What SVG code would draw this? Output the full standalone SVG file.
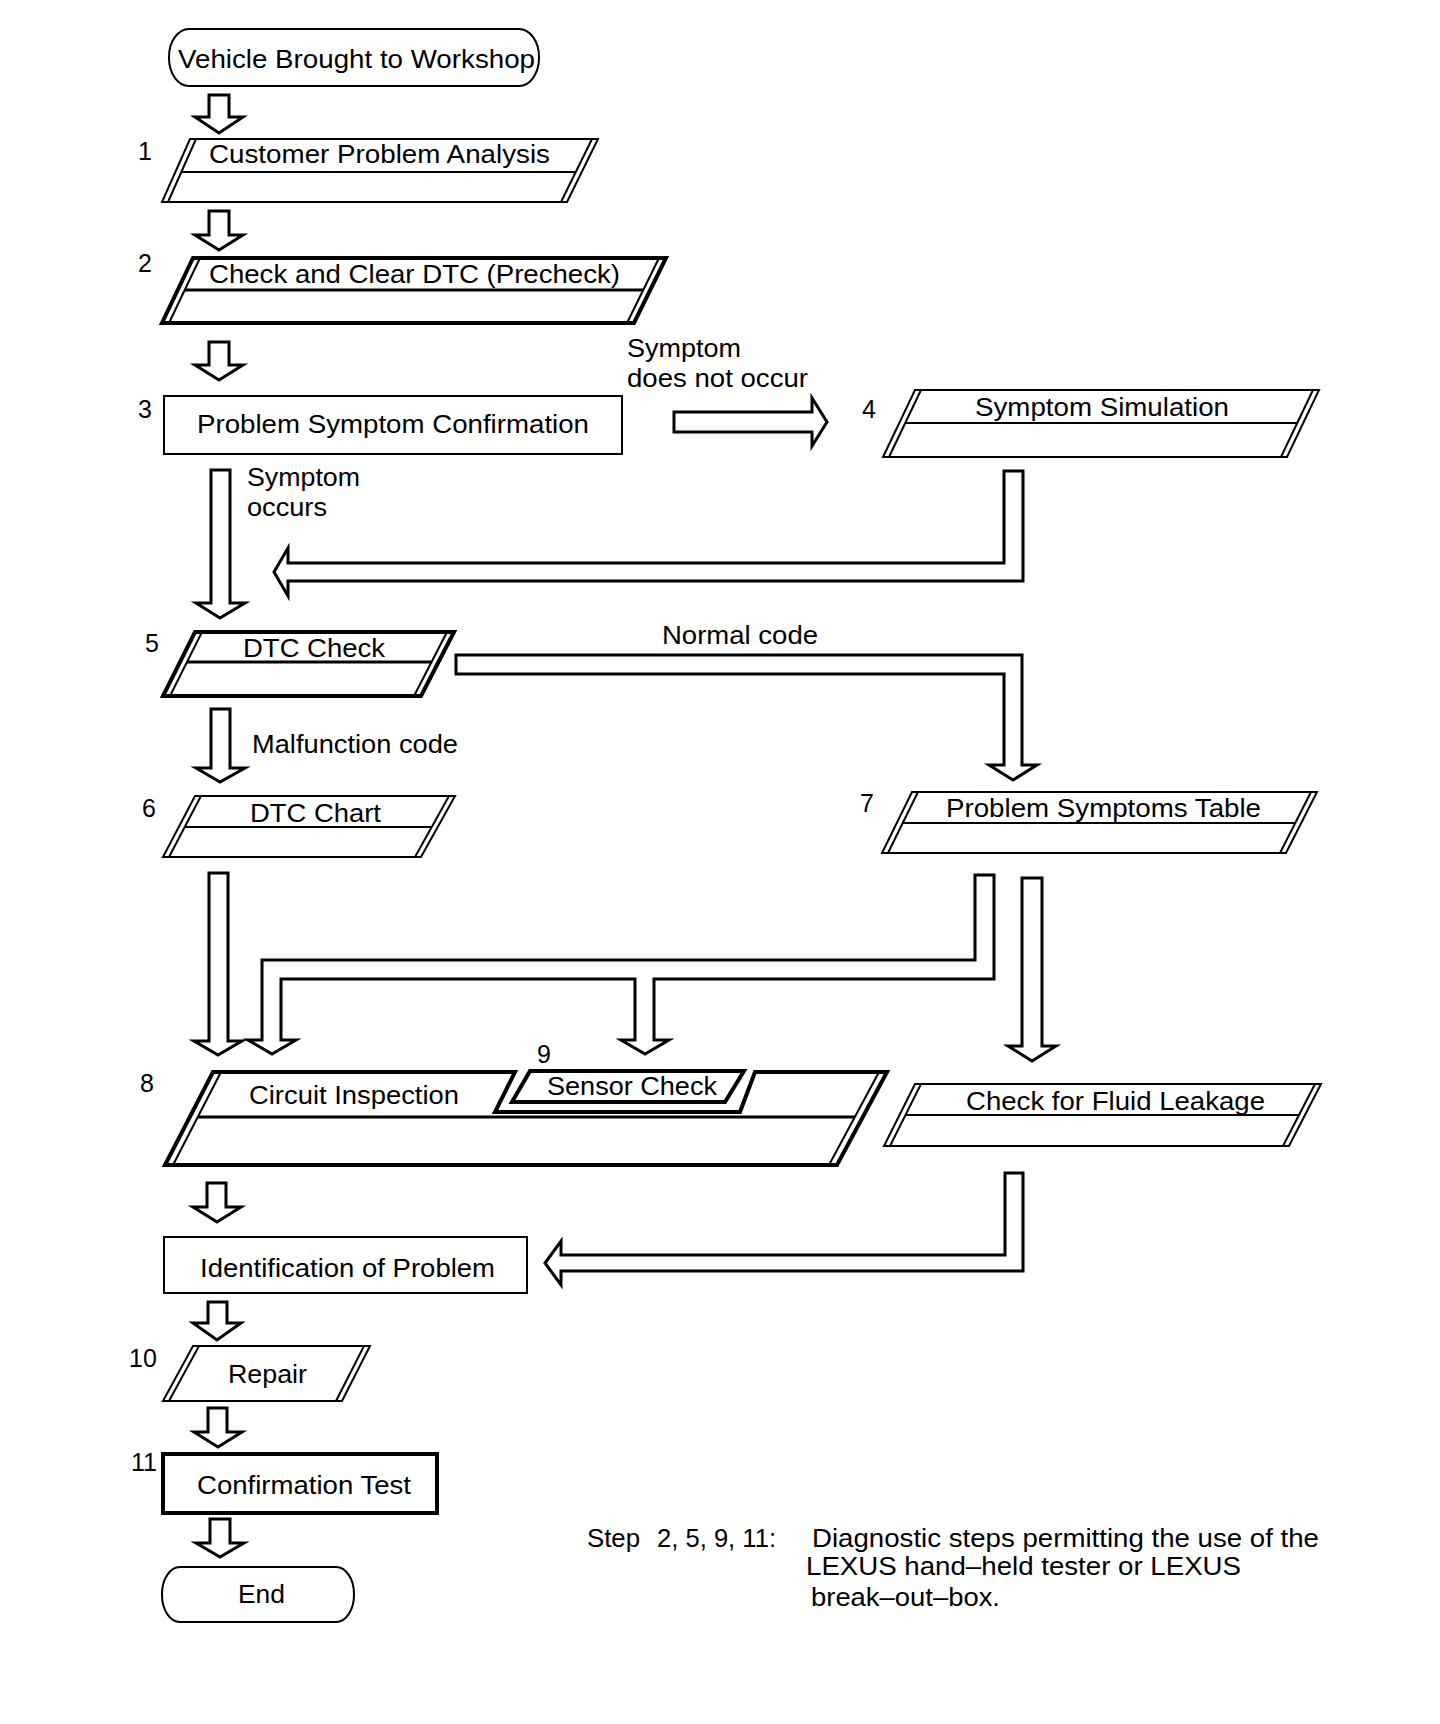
<svg xmlns="http://www.w3.org/2000/svg" width="1440" height="1724" viewBox="0 0 1440 1724">
<style>
.bg{fill:#fff}
.thin{fill:#fff;stroke:#000;stroke-width:2;stroke-linejoin:miter}
.thick{fill:#fff;stroke:#000;stroke-width:4;stroke-linejoin:miter}
.ln{fill:none;stroke:#000;stroke-width:2}
.lnb{fill:none;stroke:#000;stroke-width:3}
.arr{fill:#fff;stroke:#000;stroke-width:3;stroke-linejoin:miter}
text{font-family:"Liberation Sans",Arial,Helvetica,sans-serif;font-size:26px;fill:#000}
.num{font-size:25px}
.note{font-size:25px}
</style>
<rect class="bg" x="0" y="0" width="1440" height="1724"/>

<g id="connectors">
<path class="arr" d="M209,95 H229 V117 H243 L219,133 L195,117 H209 Z"/>
<path class="arr" d="M209,211 H229 V235 H243 L219,250 L195,235 H209 Z"/>
<path class="arr" d="M209,342 H229 V365 H243 L219,380 L195,365 H209 Z"/>
<path class="arr" d="M674,412 H812 V398 L827,422 L812,446 V432 H674 Z"/>
<path class="arr" d="M1004,471 H1023 V581 H288 V596 L274,572 L288,548 V563 H1004 Z"/>
<path class="arr" d="M211,470 H230 V603 H245 L220,618 L196,603 H211 Z"/>
<path class="arr" d="M456,655 H1022 V765 H1037 L1013,780 L989,765 H1004 V674 H456 Z"/>
<path class="arr" d="M211,709 H230 V768 H245 L220,782 L196,768 H211 Z"/>
<path class="arr" d="M209,873 H228 V1041 H242 L218,1055 L194,1041 H209 Z"/>
<path class="arr" d="M975,875 H994 V979 H654 V1040 H669 L645,1054 L621,1040 H635 V979 H281 V1040 H296 L272,1054 L248,1040 H262 V960 H975 Z"/>
<path class="arr" d="M1022,878 H1042 V1046 H1056 L1032,1061 L1008,1046 H1022 Z"/>
<path class="arr" d="M207,1183 H226 V1207 H241 L217,1222 L193,1207 H207 Z"/>
<path class="arr" d="M1005,1173 H1023 V1271 H561 V1285 L545,1263 L561,1241 V1255 H1005 Z"/>
<path class="arr" d="M208,1302 H227 V1323 H241 L217,1340 L193,1323 H208 Z"/>
<path class="arr" d="M208,1408 H227 V1432 H242 L218,1447 L194,1432 H208 Z"/>
<path class="arr" d="M210,1519 H230 V1543 H244 L220,1557 L196,1543 H210 Z"/>
<text x="627" y="357" textLength="114" lengthAdjust="spacingAndGlyphs">Symptom</text>
<text x="627" y="387" textLength="181" lengthAdjust="spacingAndGlyphs">does not occur</text>
<text x="247" y="486" textLength="113" lengthAdjust="spacingAndGlyphs">Symptom</text>
<text x="247" y="516" textLength="80" lengthAdjust="spacingAndGlyphs">occurs</text>
<text x="662" y="644" textLength="156" lengthAdjust="spacingAndGlyphs">Normal code</text>
<text x="252" y="753" textLength="206" lengthAdjust="spacingAndGlyphs">Malfunction code</text>
</g>

<g id="start">
<rect class="thin" x="169" y="29" width="370" height="57" rx="20" ry="28"/>
<text x="178" y="68" textLength="357" lengthAdjust="spacingAndGlyphs">Vehicle Brought to Workshop</text>
</g>

<g id="step1">
<path class="thin" d="M190,139 H598 L567,202 H162 Z"/>
<line class="ln" x1="196" y1="139" x2="168" y2="202"/>
<line class="ln" x1="592" y1="139" x2="561" y2="202"/>
<line class="ln" x1="181" y1="172" x2="576" y2="172"/>
<text class="num" x="138" y="160">1</text>
<text x="209" y="163" textLength="341" lengthAdjust="spacingAndGlyphs">Customer Problem Analysis</text>
</g>

<g id="step2">
<path class="thick" d="M193,258 H666 L634,323 H162 Z"/>
<line class="ln" x1="200" y1="258" x2="169" y2="323"/>
<line class="ln" x1="659" y1="258" x2="627" y2="323"/>
<line class="lnb" x1="185" y1="290" x2="643" y2="290"/>
<text class="num" x="138" y="272">2</text>
<text x="209" y="283" textLength="411" lengthAdjust="spacingAndGlyphs">Check and Clear DTC (Precheck)</text>
</g>

<g id="step3">
<rect class="thin" x="164" y="396" width="458" height="58"/>
<text class="num" x="138" y="418">3</text>
<text x="197" y="433" textLength="392" lengthAdjust="spacingAndGlyphs">Problem Symptom Confirmation</text>
</g>

<g id="step4">
<path class="thin" d="M915,390 H1319 L1287,457 H883 Z"/>
<line class="ln" x1="921" y1="390" x2="889" y2="457"/>
<line class="ln" x1="1313" y1="390" x2="1281" y2="457"/>
<line class="ln" x1="905" y1="423" x2="1297" y2="423"/>
<text class="num" x="862" y="418">4</text>
<text x="975" y="416" textLength="254" lengthAdjust="spacingAndGlyphs">Symptom Simulation</text>
</g>

<g id="step5">
<path class="thick" d="M195,632 H454 L421,696 H163 Z"/>
<line class="ln" x1="202" y1="632" x2="170" y2="696"/>
<line class="ln" x1="447" y1="632" x2="414" y2="696"/>
<line class="lnb" x1="187" y1="662" x2="431" y2="662"/>
<text class="num" x="145" y="652">5</text>
<text x="243" y="657" textLength="142" lengthAdjust="spacingAndGlyphs">DTC Check</text>
</g>

<g id="step6">
<path class="thin" d="M195,796 H455 L421,857 H163 Z"/>
<line class="ln" x1="201" y1="796" x2="169" y2="857"/>
<line class="ln" x1="449" y1="796" x2="415" y2="857"/>
<line class="ln" x1="185" y1="827" x2="432" y2="827"/>
<text class="num" x="142" y="817">6</text>
<text x="250" y="822" textLength="131" lengthAdjust="spacingAndGlyphs">DTC Chart</text>
</g>

<g id="step7">
<path class="thin" d="M912,792 H1317 L1286,853 H882 Z"/>
<line class="ln" x1="918" y1="792" x2="888" y2="853"/>
<line class="ln" x1="1311" y1="792" x2="1280" y2="853"/>
<line class="ln" x1="903" y1="823" x2="1295" y2="823"/>
<text class="num" x="860" y="812">7</text>
<text x="946" y="817" textLength="315" lengthAdjust="spacingAndGlyphs">Problem Symptoms Table</text>
</g>

<g id="step8">
<path class="thick" d="M213,1072 H515 L495,1112 H740 L755,1072 H887 L837,1165 H165 Z"/>
<line class="ln" x1="221" y1="1072" x2="173" y2="1165"/>
<line class="ln" x1="879" y1="1072" x2="829" y2="1165"/>
<line class="lnb" x1="198" y1="1117" x2="855" y2="1117"/>
<text class="num" x="140" y="1092">8</text>
<text x="249" y="1104" textLength="210" lengthAdjust="spacingAndGlyphs">Circuit Inspection</text>
</g>

<g id="step9">
<path class="thick" d="M530,1071 H744 L725,1102 H512 Z"/>
<text class="num" x="537" y="1063">9</text>
<text x="547" y="1095" textLength="170" lengthAdjust="spacingAndGlyphs">Sensor Check</text>
</g>

<g id="fluid">
<path class="thin" d="M915,1084 H1321 L1289,1146 H884 Z"/>
<line class="ln" x1="921" y1="1084" x2="890" y2="1146"/>
<line class="ln" x1="1315" y1="1084" x2="1283" y2="1146"/>
<line class="ln" x1="905" y1="1115" x2="1299" y2="1115"/>
<text x="966" y="1110" textLength="299" lengthAdjust="spacingAndGlyphs">Check for Fluid Leakage</text>
</g>

<g id="identification">
<rect class="thin" x="164" y="1237" width="363" height="56"/>
<text x="200" y="1277" textLength="295" lengthAdjust="spacingAndGlyphs">Identification of Problem</text>
</g>

<g id="step10">
<path class="thin" d="M193,1346 H370 L342,1401 H163 Z"/>
<line class="ln" x1="199" y1="1346" x2="169" y2="1401"/>
<line class="ln" x1="364" y1="1346" x2="336" y2="1401"/>
<text class="num" x="129" y="1367">10</text>
<text x="228" y="1383" textLength="79" lengthAdjust="spacingAndGlyphs">Repair</text>
</g>

<g id="step11">
<rect class="thick" x="163" y="1454" width="274" height="59"/>
<text class="num" x="131" y="1471">11</text>
<text x="197" y="1494" textLength="214" lengthAdjust="spacingAndGlyphs">Confirmation Test</text>
</g>

<g id="end">
<rect class="thin" x="162" y="1567" width="192" height="55" rx="18" ry="27"/>
<text x="238" y="1603" textLength="47" lengthAdjust="spacingAndGlyphs">End</text>
</g>

<g id="note">
<text class="note" x="587" y="1547" textLength="53" lengthAdjust="spacingAndGlyphs">Step</text>
<text class="note" x="657" y="1547" textLength="119" lengthAdjust="spacingAndGlyphs">2, 5, 9, 11:</text>
<text class="note" x="812" y="1547" textLength="507" lengthAdjust="spacingAndGlyphs">Diagnostic steps permitting the use of the</text>
<text class="note" x="806" y="1575" textLength="435" lengthAdjust="spacingAndGlyphs">LEXUS hand–held tester or LEXUS</text>
<text class="note" x="811" y="1606" textLength="189" lengthAdjust="spacingAndGlyphs">break–out–box.</text>
</g>
</svg>
